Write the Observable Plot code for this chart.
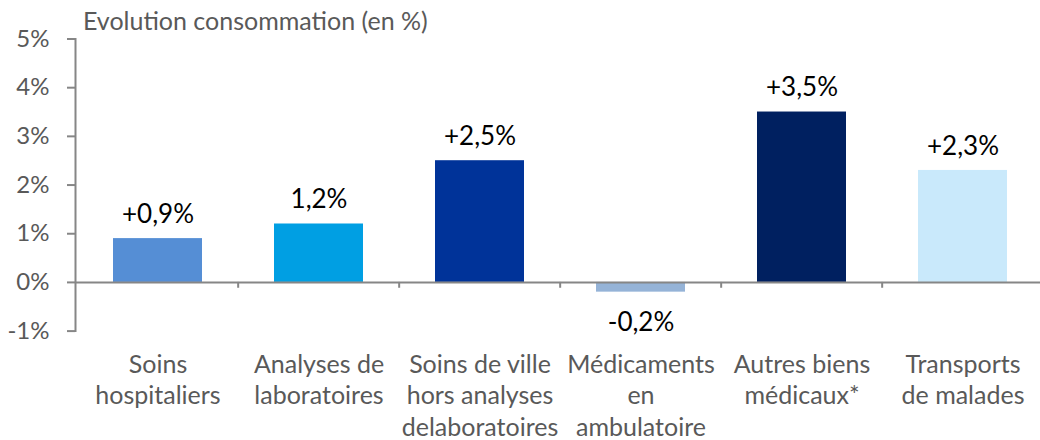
<!DOCTYPE html>
<html>
<head>
<meta charset="utf-8">
<script src="https://cdn.jsdelivr.net/npm/d3@7"></script>
<script src="https://cdn.jsdelivr.net/npm/@observablehq/plot@0.6"></script>
<style>
  body { margin: 0; background: #fff; }
  #wrap { position: relative; width: 1040px; height: 440px; }
  #title { position: absolute; left: 83px; top: 7px; font-family: Lato, sans-serif; font-size: 25px; line-height: 26px; color: #595959; white-space: nowrap; }
</style>
</head>
<body>
<div id="wrap"><div id="title">Evolution consommation (en %)</div></div>
<script>
const categories = ["Soins\nhospitaliers", "Analyses de\nlaboratoires", "Soins de ville\nhors analyses\ndelaboratoires", "Médicaments\nen\nambulatoire", "Autres biens\nmédicaux*", "Transports\nde malades"];
const values = [0.9, 1.2, 2.5, -0.2, 3.5, 2.3];
const valueLabels = ["+0,9%", "1,2%", "+2,5%", "-0,2%", "+3,5%", "+2,3%"];
const colors = ["#558ED5", "#009FE3", "#003399", "#95B3D7", "#002060", "#C9E9FB"];
const yTicks = [-1, 0, 1, 2, 3, 4, 5];

const data = categories.map((c, i) => ({cat: c, value: values[i], label: valueLabels[i], color: colors[i]}));

const W = 1040, ML = 75, MR = -5;
const step = (W - ML - MR) / categories.length;

const chart = Plot.plot({
  width: W,
  height: 440,
  marginLeft: ML,
  marginRight: MR,
  marginTop: 38.5,
  marginBottom: 109.4,
  style: {fontFamily: "Lato, sans-serif", overflow: "visible"},
  x: {domain: categories, padding: 0, axis: null},
  y: {domain: [-1, 5], axis: null},
  marks: [
    Plot.axisY({ticks: yTicks, tickFormat: d => d + "%", label: null, tickSize: 8, tickPadding: 18, stroke: "#868686", strokeWidth: 2, strokeOpacity: 1, fill: "#595959", fontSize: 24}),
    Plot.frame({anchor: "left", stroke: "#868686", strokeWidth: 2}),
    Plot.barY(data, {x: "cat", y: "value", fill: "color", insetLeft: 36, insetRight: 36}),
    Plot.ruleY([0], {stroke: "#868686", strokeWidth: 2}),
    Plot.ruleX(categories.slice(1), {x: d => d, y1: 0, y2: -0.12, dx: -step / 2, stroke: "#868686", strokeWidth: 2}),
    Plot.text(data.filter(d => d.value >= 0), {x: "cat", y: "value", text: "label", dy: -24, fill: "#000", fontSize: 26}),
    Plot.text(data.filter(d => d.value < 0), {x: "cat", y: "value", text: "label", dy: 31, fill: "#000", fontSize: 26}),
    Plot.axisX({label: null, tickSize: 0, tickPadding: 19, fill: "#595959", fontSize: 25, lineHeight: 1.27, lineAnchor: "top"})
  ]
});
document.getElementById("wrap").appendChild(chart);
</script>
</body>
</html>
